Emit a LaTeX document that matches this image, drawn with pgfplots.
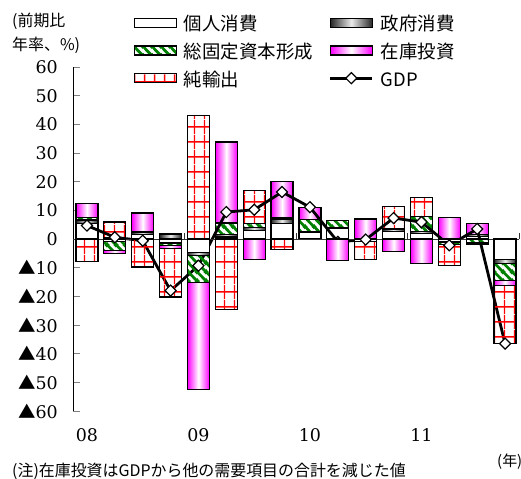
\documentclass[border=0pt]{standalone}
\usepackage{fontspec}
\setmainfont{DejaVu Serif}
\newfontfamily\cjk{Noto Sans CJK JP}
\usepackage{pgfplots}
\pgfplotsset{compat=1.18}
\usepackage{pgfplotstable}
\usetikzlibrary{patterns.meta}

% 純輸出: red grid on white
\tikzdeclarepattern{
  name=netgrid, type=colored,
  bottom left={(0bp,0bp)}, top right={(10bp,15bp)}, tile size={(10bp,15bp)},
  code={
    \draw[red, line width=1.5bp] (5bp,0bp) -- (5bp,15bp);
    \draw[red, line width=1.5bp] (0bp,7.5bp) -- (10bp,7.5bp);
  }
}
% 総固定資本形成: thick green diagonals
\tikzdeclarepattern{
  name=gstripes, type=colored,
  bottom left={(0bp,0bp)}, top right={(9bp,9bp)}, tile size={(9bp,9bp)},
  code={
    \draw[green!50!black, line width=3bp] (-3bp,12bp) -- (12bp,-3bp);
    \draw[green!50!black, line width=3bp] (-5bp,5bp) -- (5bp,-5bp);
    \draw[green!50!black, line width=3bp] (4bp,14bp) -- (14bp,4bp);
  }
}

% shaded bar segments, one mark per bar so that each bar gets its own gradient
% (the mark sits at the stacked end, \segh is the segment's value, 1 unit = 344/120 bp)
\tikzset{
  shG/.style={left color=black!85, right color=black!85, middle color=black!8},
  shS/.style={left color=magenta, right color=magenta, middle color=white},
}
\newcommand\segbar[1]{%
  \pgfmathsetmacro\seglen{-(\segh)*2.86667}%
  \pgfmathsetmacro\segabs{abs(\seglen)}%
  \ifdim\segabs pt<0.05pt\relax\else
    \shadedraw[#1, draw=black, line width=1.3bp]
      (-11bp,0bp) rectangle (11bp,\seglen bp);
  \fi}
\pgfdeclareplotmark{segG}{\segbar{shG}}
\pgfdeclareplotmark{segS}{\segbar{shS}}

\newcommand\tri{{\cjk ▲}}

% positive and negative parts of each component (前期比年率, %)
% P=個人消費 G=政府消費 I=総固定資本形成 S=在庫投資 N=純輸出
\pgfplotstableread{
q  P    G    I    S     N
0  5.5  1.1  0.8  5.1   0
1  0    0.3  0    0     5.6
2  1.5  0.9  0    6.7   0
3  0    1.7  0    0     0
4  0    0    0    0     43.1
5  0.7  0.8  4.1  28.2  0
6  3.0  1.0  1.5  0     11.3
7  5.3  1.6  0.4  12.8  0
8  2.2  0.4  4.1  4.4   0
9  3.6  0.3  2.6  0     0
10 0    0    0    7.0   0
11 2.5  1.0  0    0     7.9
12 2.0  0.6  5.3  0     6.6
13 0    0.2  0    7.3   0
14 0.8  0.7  0    3.9   0
15 0    0    0    0     0
}\postab
\pgfplotstableread{
q  P     G     I     S      N
0  0     0     0     0      -7.8
1  -0.8  0     -3.2  -1.0   0
2  0     0     0     0      -9.8
3  -1.4  0     -0.8  -1.0   -17.0
4  -4.7  -1.0  -9.5  -37.2  0
5  0     0     0     0      -24.6
6  0     0     0     -7.2   0
7  0     0     0     0      -3.7
8  0     0     0     0      0
9  0     0     0     -7.6   0
10 -0.8  0     0     0      -6.4
11 0     0     0     -4.3   0
12 0     0     0     -8.6   0
13 -1.0  0     -1.0  0      -7.2
14 0     0     -1.4  0      -0.6
15 -7.2  -1.4  -5.8  -1.9   -20.2
}\negtab
\pgfplotstableread{
q  gdp
0  4.7
1  0.6
2  -0.6
3  -18.0
4  -9.3
5  9.4
6  10.2
7  16.4
8  11.1
9  -1.0
10 -0.2
11 7.3
12 5.9
13 -2.2
14 3.5
15 -36.5
}\gdptab

\pgfplotsset{
  frame/.style={
    at={(73bp,68bp)}, anchor=south west, scale only axis,
    width=446bp, height=344bp,
    xmin=-0.5, xmax=15.5, ymin=-60, ymax=60,
    ybar stacked, bar width=0.79, clip=false,
  },
  seg/.style={draw=black, line width=1.3bp,
    legend image code/.code={\draw[##1] (0bp,-4.5bp) rectangle (42bp,4.5bp);}},
  sP/.style={seg, fill=white},
  sI/.style={seg, pattern=gstripes},
  sN/.style={seg, pattern=netgrid},
  % shaded components: marks, not bars
  shade seg/.style 2 args={only marks, scatter, mark=#1,
    scatter/@pre marker code/.code={}, scatter/@post marker code/.code={},
    visualization depends on={\thisrow{#2} \as \segh},
    legend image code/.code={\shadedraw[sh#2, draw=black, line width=1.3bp]
      (0bp,-4.5bp) rectangle (42bp,4.5bp);}},
  gdpline/.style={sharp plot, stack plots=false, black, line width=2.8bp,
    mark=square*, mark size=3.9bp,
    mark options={rotate=45, fill=white, draw=black, line width=1.2bp},
    legend image code/.code={\draw[mark repeat=2, mark phase=2, ##1]
      plot coordinates {(0bp,0bp) (21bp,0bp) (42bp,0bp)};}},
}

\begin{document}
\begin{tikzpicture}
\begin{axis}[frame,
  axis y line*=left, axis x line*=bottom,
  x axis line style={draw=none}, xtick style={draw=none},
  y axis line style={line width=0.8bp},
  ytick={-60,-50,...,60},
  yticklabels={\tri60,\tri50,\tri40,\tri30,\tri20,\tri10,0,10,20,30,40,50,60},
  xtick={0,4,8,12}, xticklabels={08,09,10,11},
  tick align=inside, major tick length=7bp,
  ytick style={line width=0.8bp},
  tick label style={font=\fontsize{17.5}{20}\selectfont},
  yticklabel style={anchor=east, inner sep=0pt, xshift=-15bp},
  xticklabel style={anchor=north, inner sep=0pt, yshift=-17bp},
]
\addplot[sP] table[x=q, y=P] {\postab};
\addplot[shade seg={segG}{G}] table[x=q, y=G] {\postab};
\addplot[sI] table[x=q, y=I] {\postab};
\addplot[shade seg={segS}{S}] table[x=q, y=S] {\postab};
\addplot[sN] table[x=q, y=N] {\postab};
\end{axis}

\begin{axis}[frame, hide axis,
  legend columns=2, legend cell align=left,
  legend style={draw=none, fill=none, inner sep=0pt,
    at={(axis description cs:0.1355,1.1643)}, anchor=north west,
    row sep=3.75bp,
    nodes={inner sep=0pt, text height=20bp, text depth=4bp,
      font=\cjk\fontsize{18.5}{20}\selectfont}},
]
\addplot[sP] table[x=q, y=P] {\negtab};
\addlegendentry{\makebox[152bp][l]{\hspace{7bp}個人消費}}
\addplot[shade seg={segG}{G}] table[x=q, y=G] {\negtab};
\addlegendentry{\hspace{7bp}政府消費}
\addplot[sI] table[x=q, y=I] {\negtab};
\addlegendentry{\makebox[152bp][l]{\hspace{7bp}総固定資本形成}}
\addplot[shade seg={segS}{S}] table[x=q, y=S] {\negtab};
\addlegendentry{\hspace{7bp}在庫投資}
\addplot[sN] table[x=q, y=N] {\negtab};
\addlegendentry{\makebox[152bp][l]{\hspace{7bp}純輸出}}

\draw[black!80, line width=0.8bp] (axis cs:-0.5,0) -- (axis cs:15.5,0);
\draw[black!80, line width=0.8bp] (axis cs:3.5,0) -- ++(0bp,6bp);
\draw[black!80, line width=0.8bp] (axis cs:7.5,0) -- ++(0bp,6bp);
\draw[black!80, line width=0.8bp] (axis cs:11.5,0) -- ++(0bp,6bp);
\draw[black!80, line width=0.8bp] (axis cs:15.5,0) -- ++(0bp,6bp);

\addplot[gdpline] table[x=q, y=gdp] {\gdptab};
\addlegendentry{\hspace{7bp}GDP}
\end{axis}

\node[anchor=base west, inner sep=0pt, font=\cjk\fontsize{16}{18}\selectfont]
  at (12bp,452bp) {(前期比};
\node[anchor=base west, inner sep=0pt, font=\cjk\fontsize{16}{18}\selectfont]
  at (12bp,428bp) {年率、\%)};
\node[anchor=base west, inner sep=0pt, font=\cjk\fontsize{15}{17}\selectfont]
  at (497bp,13bp) {(年)};
\node[anchor=base west, inner sep=0pt, font=\cjk\fontsize{16}{18}\selectfont]
  at (12bp,3bp) {(注)在庫投資はGDPから他の需要項目の合計を減じた値};

\pgfresetboundingbox
\useasboundingbox (0bp,0bp) rectangle (521bp,479bp);
\end{tikzpicture}
\end{document}
